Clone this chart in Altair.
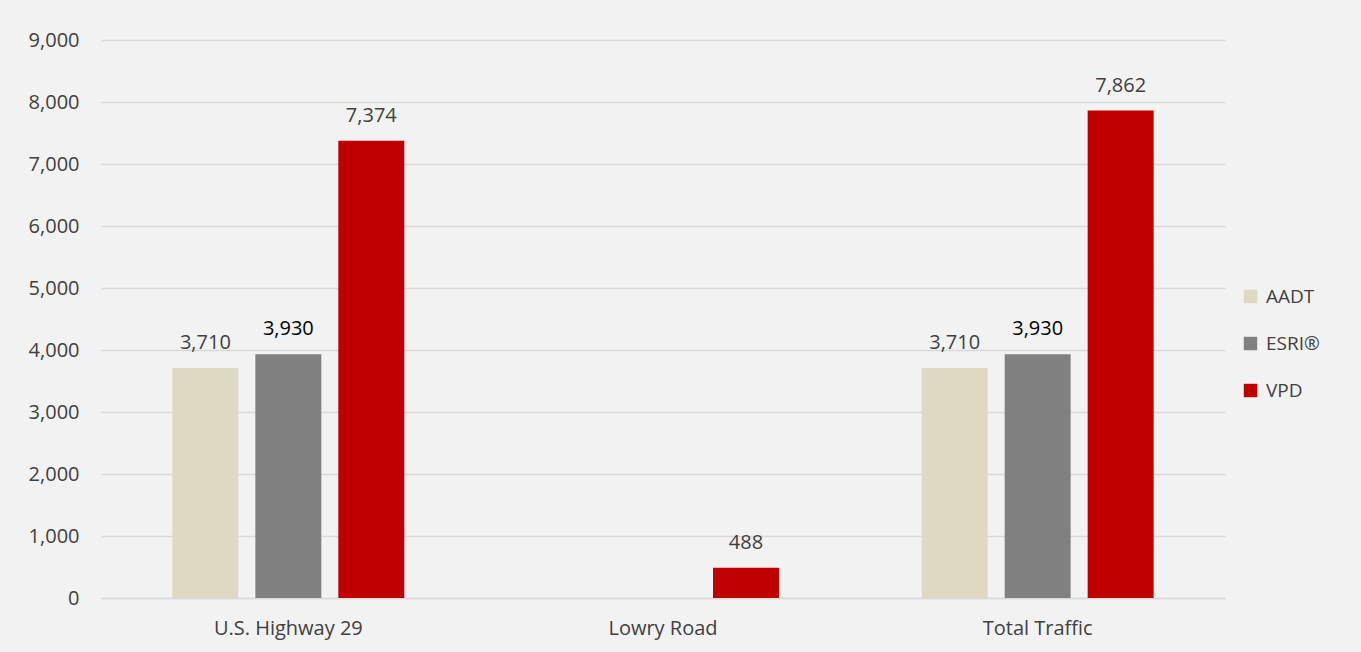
import altair as alt
import pandas as pd

categories = ["U.S. Highway 29", "Lowry Road", "Total Traffic"]
series = ["AADT", "ESRI®", "VPD"]
aadt = [3710, None, 3710]
esri = [3930, None, 3930]
vpd = [7374, 488, 7862]
colors = ["#DDD9C3", "#808080", "#C00000"]
label_colors = ["#404040", "#000000", "#404040"]

rows = []
for i, c in enumerate(categories):
    for s, vals in zip(series, [aadt, esri, vpd]):
        if vals[i] is not None:
            rows.append({"Road": c, "Series": s, "Value": vals[i]})
df = pd.DataFrame(rows)

font = "Open Sans"

x = alt.X("Road:N", sort=categories, title=None,
          scale=alt.Scale(paddingInner=0, paddingOuter=0),
          axis=alt.Axis(labelAngle=0, labelFontSize=20, labelColor="#404040", labelFont=font,
                        ticks=False, domain=True, domainColor="#D9D9D9", domainWidth=1.5,
                        labelPadding=20))
xo = alt.XOffset("Series:N", sort=series,
                 scale=alt.Scale(domain=series, paddingInner=0.205, paddingOuter=0.86))
y = alt.Y("Value:Q", title=None,
          scale=alt.Scale(domain=[0, 9000], nice=False),
          axis=alt.Axis(values=list(range(0, 9001, 1000)), format=",.0f", labelFontSize=20,
                        labelColor="#404040", labelFont=font, ticks=False, domain=False,
                        gridColor="#D9D9D9", gridWidth=1.5, labelPadding=22))

bars = alt.Chart(df).mark_bar().encode(
    x=x, xOffset=xo, y=y,
    color=alt.Color("Series:N", sort=series,
                    scale=alt.Scale(domain=series, range=colors),
                    legend=alt.Legend(title=None, orient="none", legendX=1140, legendY=247,
                                      symbolType="square", symbolSize=180, symbolStrokeWidth=0,
                                      labelFontSize=19, labelColor="#404040", labelFont=font,
                                      rowPadding=27, labelOffset=6)),
)

labels = alt.Chart(df).mark_text(baseline="bottom", dy=-15, fontSize=20, font=font).encode(
    x=x, xOffset=xo, y=y,
    text=alt.Text("Value:Q", format=","),
    color=alt.Color("Series:N", sort=series,
                    scale=alt.Scale(domain=series, range=label_colors), legend=None),
)

chart = alt.layer(bars, labels).resolve_scale(color="independent").properties(
    width=1124, height=558,
    autosize=alt.AutoSizeParams(type="none"),
    padding={"left": 101, "top": 40, "right": 136, "bottom": 54},
    background="#F2F2F2",
).configure_view(stroke=None)

chart.save("out.html", embed_options={"renderer": "svg", "actions": False})
